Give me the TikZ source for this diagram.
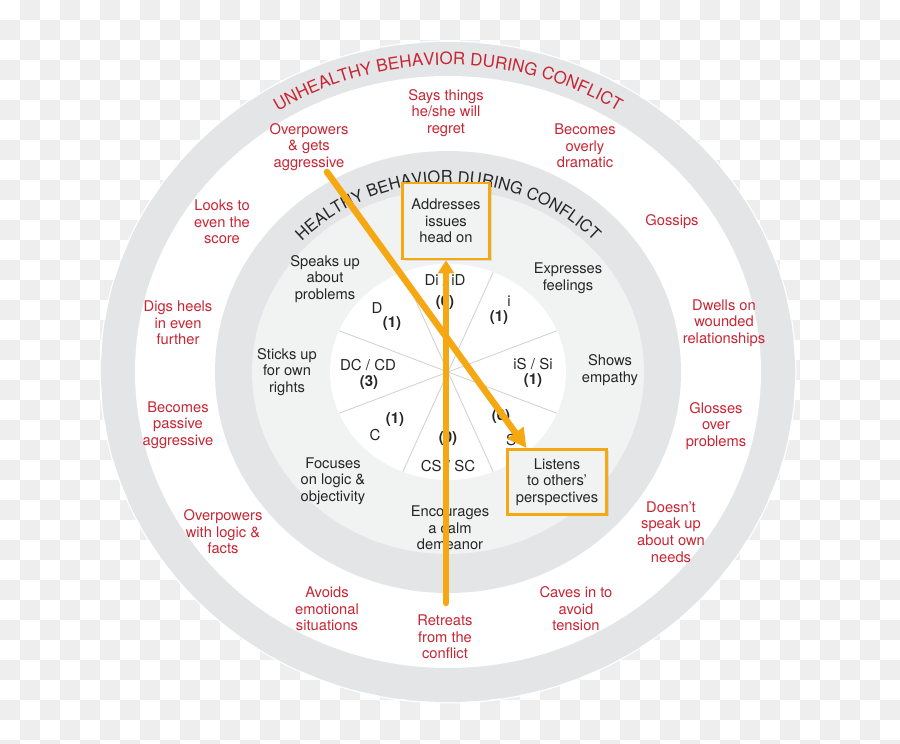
\documentclass[tikz,border=0pt]{standalone}
\usepackage{fontspec}
\setmainfont{TeX Gyre Heros}
\usetikzlibrary{arrows.meta,decorations.text,shadows}
\definecolor{conflred}{RGB}{200,38,52}
\definecolor{arroworange}{RGB}{245,168,18}
\definecolor{ringgray}{RGB}{228,229,231}
\definecolor{healthgray}{RGB}{241,242,242}
\definecolor{checkgray}{RGB}{238,238,238}
\definecolor{spokegray}{RGB}{208,208,208}

\begin{document}
\begin{tikzpicture}[x=1pt,y=1pt,
  bad/.style={text=conflred, align=center, font=\fontsize{14.7}{16.6}\selectfont},
  good/.style={text=black!85, align=center, font=\fontsize{14.7}{16.6}\selectfont},
  pie/.style={text=black!85, font=\fontsize{15}{17}\selectfont},
  count/.style={pie, font=\fontsize{15}{17}\selectfont\bfseries},
  box/.style={good, draw=arroworange, line width=2.8pt, fill=healthgray,
    drop shadow={opacity=0.2, shadow xshift=2pt, shadow yshift=-2pt}},
  arr/.style={color=arroworange, line width=6.5pt, line cap=round}]
\useasboundingbox (0,0) rectangle (900,744);
% checker background
\foreach \i in {0,...,44}
  \foreach \j in {0,...,37}{
    \pgfmathtruncatemacro\odd{mod(\i+\j,2)}
    \ifnum\odd=1 \fill[checkgray] (20*\i,724-20*\j) rectangle +(20,20); \fi
  }
% rings and pie
\begin{scope}[shift={(448,372)}]
  \fill[ringgray] (0,0) ellipse[x radius=347, y radius=330];
  \draw[white, line width=1pt] (0,0) ellipse[x radius=348, y radius=331];
  \fill[white] (0,0) ellipse[x radius=313, y radius=296];
  \fill[ringgray] (0,0) ellipse[x radius=233, y radius=221];
  \fill[healthgray] (0,0) ellipse[x radius=196, y radius=182];
  \fill[white] (0,0) ellipse[x radius=118, y radius=108];
  \foreach \a in {22.5,67.5,...,360}
    \draw[spokegray, line width=0.8pt] (0,0) -- (\a:118 and 108);
  \path[decorate, decoration={text along path, text align=center, text color=conflred,
      text={|\fontsize{17}{17}\selectfont|UNHEALTHY BEHAVIOR DURING CONFLICT}}]
    (160:322 and 307) arc[start angle=160, end angle=20, x radius=322, y radius=307];
  \path[decorate, decoration={text along path, text align=center, text color=black!85,
      text={|\fontsize{16.5}{16.5}\selectfont|HEALTHY BEHAVIOR DURING CONFLICT}}]
    (160:202 and 189) arc[start angle=160, end angle=20, x radius=202, y radius=189];
\end{scope}

% unhealthy behaviour
\node[bad] (regret) at (446,631) {Says things\\he/she will\\regret};
\node[bad] (dramatic) at (585,598) {Becomes\\overly\\dramatic};
\node[bad] (gossips) at (672,522) {Gossips};
\node[bad] (dwells) at (724,421) {Dwells on\\wounded\\relationships};
\node[bad] (glosses) at (716,318) {Glosses\\over\\problems};
\node[bad] (needs) at (671,212) {Doesn't\\speak up\\about own\\needs};
\node[bad] (caves) at (576,135) {Caves in to\\avoid\\tension};
\node[bad] (retreats) at (445,107) {Retreats\\from the\\conflict};
\node[bad] (avoids) at (327,135) {Avoids\\emotional\\situations};
\node[bad] (facts) at (223,212) {Overpowers\\with logic \&\\facts};
\node[bad] (passive) at (178,319) {Becomes\\passive\\aggressive};
\node[bad] (digs) at (178,421) {Digs heels\\in even\\further};
\node[bad] (score) at (222,522) {Looks to\\even the\\score};
\node[bad] (aggressive) at (309,597) {Overpowers\\\& gets\\aggressive};

% healthy behaviour
\node[box, minimum width=87, minimum height=76] (addr) at (446,523) {Addresses\\issues\\head on};
\node[good] (feelings) at (568,466) {Expresses\\feelings};
\node[good] (empathy) at (610,374) {Shows\\empathy};
\node[box, minimum width=99, minimum height=65] (listens) at (557,262) {Listens\\to others'\\perspectives};
\node[good] (calm) at (450,216) {Encourages\\a calm\\demeanor};
\node[good] (logic) at (333,263) {Focuses\\on logic \&\\objectivity};
\node[good] (rights) at (287,372) {Sticks up\\for own\\rights};
\node[good] (speaks) at (325,465) {Speaks up\\about\\problems};

% pie labels
\node[pie] (d) at (377,436) {D};
\node[count] (d-n) at (392,420) {(1)};
\node[pie] (dc) at (368,379) {DC / CD};
\node[count] (dc-n) at (369,361) {(3)};
\node[pie] (c) at (375,309) {C};
\node[count] (c-n) at (395,324) {(1)};
\node[pie] (cs) at (448,278) {CS / SC};
\node[count] (cs-n) at (448,305) {(0)};
\node[pie] (s) at (511,304) {S};
\node[count] (s-n) at (501,327) {(0)};
\node[pie] (is) at (533,380) {iS / Si};
\node[count] (is-n) at (533,363) {(1)};
\node[pie] (i) at (509,443) {i};
\node[count] (i-n) at (499,426) {(1)};
\node[pie] (di) at (445,464) {Di / iD};
\node[count] (di-n) at (445,441) {(0)};

% arrows
\coordinate (retreat-start) at (446,141);
\coordinate (aggr-start) at (327,572);
\path[arr]
  (retreat-start) edge[-{Triangle[length=13pt,width=16pt]}] (addr.south)
  (aggr-start) edge[-{Triangle[length=19pt,width=19pt]}] (listens.132);
\end{tikzpicture}
\end{document}
